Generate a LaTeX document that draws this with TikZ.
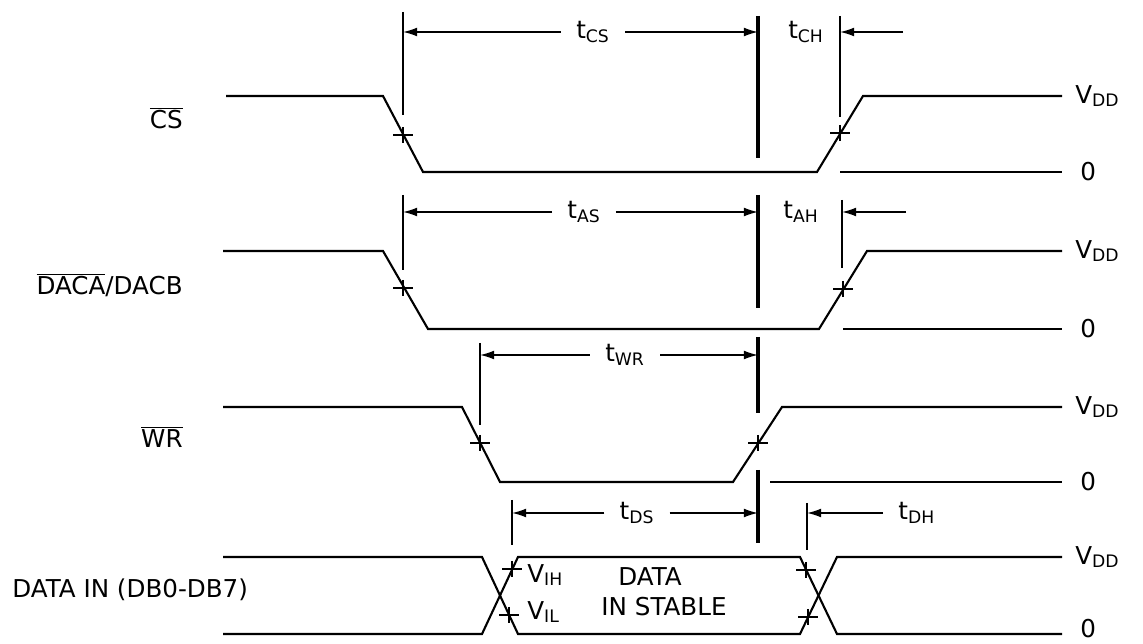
\documentclass[tikz,border=0pt]{standalone}
\usepackage{fontspec}
\setmainfont{DejaVu Sans}
\usetikzlibrary{arrows.meta}

\newcommand{\ovl}[1]{$\overline{\hbox{#1}}$}

\begin{document}
\begin{tikzpicture}[
    x=0.02cm, y=-0.02cm,
    sig/.style={line width=1.2pt, line join=miter},
    guide/.style={line width=0.8pt},
    bigline/.style={line width=2pt},
    dim/.style={line width=0.8pt, -{Latex[length=8pt,width=5pt]}},
    lbl/.style={font=\fontsize{14}{16}\selectfont, inner sep=0pt},
    tlbl/.style={lbl, inner xsep=0.3cm}
  ]
    \useasboundingbox (0,0) rectangle (1143,644);

    \node[lbl, anchor=east] (cs) at (183,118) {\ovl{CS}};
    \node[lbl, anchor=east] (dac) at (183,285) {\ovl{DACA}/DACB};
    \node[lbl, anchor=east] (wr) at (183,437) {\ovl{WR}};
    \node[lbl, anchor=west] (din) at (12,590) {DATA IN (DB0-DB7)};

    \draw[sig] (226,96) -- (383,96) -- (423,172) -- (817,172) -- (863,96) -- (1062,96);
    \draw[sig] (840,172) -- (1062,172);
    \draw[sig] (223,251) -- (383,251) -- (428,329) -- (819,329) -- (867,251) -- (1062,251);
    \draw[sig] (843,329) -- (1062,329);
    \draw[sig] (223,407) -- (462,407) -- (500,482) -- (733,482) -- (782,407) -- (1062,407);
    \draw[sig] (770,482) -- (1062,482);
    \draw[sig] (223,557) -- (482,557) -- (518,634) -- (800,634) -- (837,557) -- (1062,557);
    \draw[sig] (223,634) -- (482,634) -- (518,557) -- (800,557) -- (837,634) -- (1062,634);

    \foreach \x/\y in {403/135, 840/133, 403/288, 843/289, 480/443, 758/443, 512/569, 509/615, 806/570, 808/617}
      \draw[guide] (\x-10,\y) -- (\x+10,\y) (\x,\y-8) -- (\x,\y+8);

    \coordinate (csL) at (403,12);
    \coordinate (csR) at (840,16);
    \coordinate (daL) at (403,195);
    \coordinate (daR) at (842,200);
    \coordinate (wrL) at (480,343);
    \coordinate (dsL) at (512,500);
    \coordinate (dhR) at (807,503);
    \coordinate (mid) at (758,16);

    \draw[guide] (csL) -- (403,115);
    \draw[guide] (csR) -- (840,117);
    \draw[guide] (daL) -- (403,270);
    \draw[guide] (daR) -- (842,268);
    \draw[guide] (wrL) -- (480,425);
    \draw[guide] (dsL) -- (512,545);
    \draw[guide] (dhR) -- (807,550);
    \draw[bigline] (mid) -- (758,158) (758,195) -- (758,308) (758,337) -- (758,413) (758,470) -- (758,543);

    \node[tlbl] (tcs) at (593,32) {t\textsubscript{CS}};
    \node[tlbl] (tch) at (806,32) {t\textsubscript{CH}};
    \node[tlbl] (tas) at (584,212) {t\textsubscript{AS}};
    \node[tlbl] (tah) at (801,212) {t\textsubscript{AH}};
    \node[tlbl] (twr) at (625,355) {t\textsubscript{WR}};
    \node[tlbl] (tds) at (637,513) {t\textsubscript{DS}};
    \node[tlbl, anchor=west] (tdh) at (883,513) {t\textsubscript{DH}};

    \draw[dim] (tcs.west) -- (tcs.west -| csL);
    \draw[dim] (tcs.east) -- (tcs.east -| mid);
    \draw[dim] (903,32) -- (903,32 -| csR);
    \draw[dim] (tas.west) -- (tas.west -| daL);
    \draw[dim] (tas.east) -- (tas.east -| mid);
    \draw[dim] (906,212) -- (906,212 -| daR);
    \draw[dim] (twr.west) -- (twr.west -| wrL);
    \draw[dim] (twr.east) -- (twr.east -| mid);
    \draw[dim] (tds.west) -- (tds.west -| dsL);
    \draw[dim] (tds.east) -- (tds.east -| mid);
    \draw[dim] (tdh.west) -- (tdh.west -| dhR);

    \foreach \n/\y in {1/96, 2/251, 3/407, 4/557}
      \node[lbl, anchor=west] (vdd\n) at (1075,\y) {V\textsubscript{DD}};
    \foreach \n/\y in {1/172, 2/329, 3/482, 4/629}
      \node[lbl, anchor=west] (gnd\n) at (1080,\y) {0};

    \node[lbl] (dat) at (650,577) {DATA};
    \node[lbl] (stb) at (664,607) {IN STABLE};
    \node[lbl, anchor=west] (vih) at (527,575) {V\textsubscript{IH}};
    \node[lbl, anchor=west] (vil) at (527,612) {V\textsubscript{IL}};
  \end{tikzpicture}
\end{document}
